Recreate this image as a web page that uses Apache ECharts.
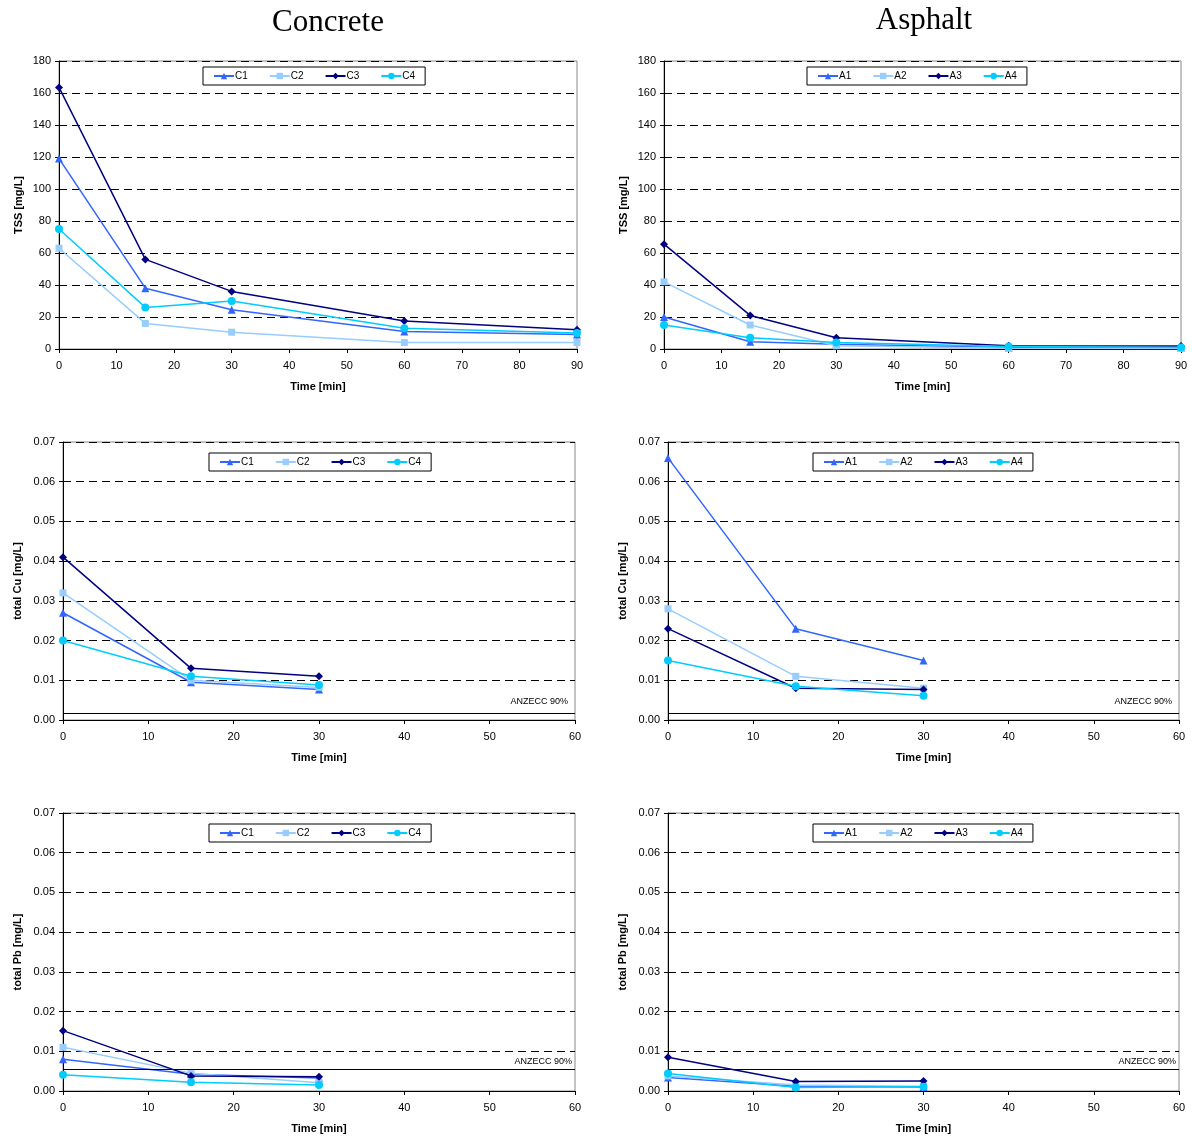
<!DOCTYPE html>
<html><head><meta charset="utf-8">
<script src="https://cdn.jsdelivr.net/npm/echarts@6/dist/echarts.min.js"></script>
<style>html,body{margin:0;padding:0;background:#fff}#c{width:1192px;height:1139px}</style>
</head><body><div id="c"></div>
<script>
// ---- Data ----
const tssTimes = [0, 15, 30, 60, 90];
const metalTimes = [0, 15, 30];
const concreteNames = ['C1', 'C2', 'C3', 'C4'];
const asphaltNames = ['A1', 'A2', 'A3', 'A4'];

const concreteTSS_C1 = [119, 38, 24.5, 11, 9];
const concreteTSS_C2 = [63, 16, 10.5, 4, 4];
const concreteTSS_C3 = [163.5, 56, 36, 17.5, 12];
const concreteTSS_C4 = [75, 26, 30, 13, 10];

const asphaltTSS_A1 = [20, 4.5, 3, 1, 1];
const asphaltTSS_A2 = [42, 15, 2, 0.5, 0.3];
const asphaltTSS_A3 = [65.5, 21, 7, 2, 1.8];
const asphaltTSS_A4 = [15, 7, 4, 1.5, 1];

const concreteCu_C1 = [0.027, 0.0095, 0.0077];
const concreteCu_C2 = [0.032, 0.0100, 0.0082];
const concreteCu_C3 = [0.041, 0.013, 0.011];
const concreteCu_C4 = [0.020, 0.011, 0.0088];

const asphaltCu_A1 = [0.066, 0.023, 0.015];
const asphaltCu_A2 = [0.028, 0.011, 0.008];
const asphaltCu_A3 = [0.023, 0.008, 0.0077];
const asphaltCu_A4 = [0.015, 0.0085, 0.0061];

const concretePb_C1 = [0.008, 0.0042, 0.0033];
const concretePb_C2 = [0.011, 0.0045, 0.0021];
const concretePb_C3 = [0.0152, 0.0038, 0.0036];
const concretePb_C4 = [0.0041, 0.0022, 0.0015];

const asphaltPb_A1 = [0.0034, 0.0012, 0.001];
const asphaltPb_A2 = [0.0038, 0.0015, 0.0012];
const asphaltPb_A3 = [0.0085, 0.0024, 0.0025];
const asphaltPb_A4 = [0.0044, 0.0009, 0.0011];

const anzeccCu = 0.0018;
const anzeccPb = 0.0056;
const anzeccLabel = 'ANZECC 90%';
const panelTitles = ['Concrete', 'Asphalt'];
const yTitles = ['TSS [mg/L]', 'total Cu [mg/L]', 'total Pb [mg/L]'];
const xTitle = 'Time [min]';

// ---- Styles ----
const colors = ['#3366FF', '#99CCFF', '#000080', '#00CCFF'];
const symbols = ['triangle', 'rect', 'diamond', 'circle'];
const symbolSizes = [8, 7, 8, 8];

const panels = [
  {names: concreteNames, times: tssTimes, data: [concreteTSS_C1, concreteTSS_C2, concreteTSS_C3, concreteTSS_C4], xmax: 90, ymax: 180, yint: 20, ytitle: yTitles[0], dec: 0, anz: null, anzDist: 0,
   grid: {left: 59, top: 61, width: 518, height: 288}, legend: {left: 203, top: 67}},
  {names: asphaltNames, times: tssTimes, data: [asphaltTSS_A1, asphaltTSS_A2, asphaltTSS_A3, asphaltTSS_A4], xmax: 90, ymax: 180, yint: 20, ytitle: yTitles[0], dec: 0, anz: null, anzDist: 0,
   grid: {left: 664, top: 61, width: 517, height: 288}, legend: {left: 807, top: 67}},
  {names: concreteNames, times: metalTimes, data: [concreteCu_C1, concreteCu_C2, concreteCu_C3, concreteCu_C4], xmax: 60, ymax: 0.07, yint: 0.01, ytitle: yTitles[1], dec: 2, anz: anzeccCu, anzDist: 7,
   grid: {left: 63, top: 442, width: 512, height: 278}, legend: {left: 209, top: 453}},
  {names: asphaltNames, times: metalTimes, data: [asphaltCu_A1, asphaltCu_A2, asphaltCu_A3, asphaltCu_A4], xmax: 60, ymax: 0.07, yint: 0.01, ytitle: yTitles[1], dec: 2, anz: anzeccCu, anzDist: 7,
   grid: {left: 668, top: 442, width: 511, height: 278}, legend: {left: 813, top: 453}},
  {names: concreteNames, times: metalTimes, data: [concretePb_C1, concretePb_C2, concretePb_C3, concretePb_C4], xmax: 60, ymax: 0.07, yint: 0.01, ytitle: yTitles[2], dec: 2, anz: anzeccPb, anzDist: 3,
   grid: {left: 63, top: 813, width: 512, height: 278}, legend: {left: 209, top: 824}},
  {names: asphaltNames, times: metalTimes, data: [asphaltPb_A1, asphaltPb_A2, asphaltPb_A3, asphaltPb_A4], xmax: 60, ymax: 0.07, yint: 0.01, ytitle: yTitles[2], dec: 2, anz: anzeccPb, anzDist: 3,
   grid: {left: 668, top: 813, width: 511, height: 278}, legend: {left: 813, top: 824}}
];

const font = 'Liberation Sans, Arial, sans-serif';
const grids = [], xAxes = [], yAxes = [], series = [], legends = [];

panels.forEach((p, i) => {
  grids.push(Object.assign({show: true, borderColor: '#888', borderWidth: 1, backgroundColor: '#fff'}, p.grid));
  xAxes.push({
    type: 'value', gridIndex: i, min: 0, max: p.xmax, interval: 10,
    name: xTitle, nameLocation: 'middle', nameGap: 32,
    nameTextStyle: {fontFamily: font, fontSize: 11, fontWeight: 'bold', color: '#000'},
    axisLine: {show: true, onZero: false, lineStyle: {color: '#000', width: 1}},
    axisTick: {show: true, length: 4, lineStyle: {color: '#000'}},
    axisLabel: {fontFamily: font, fontSize: 11, color: '#000', margin: 11},
    splitLine: {show: false}
  });
  yAxes.push({
    type: 'value', gridIndex: i, min: 0, max: p.ymax, interval: p.yint,
    name: p.ytitle, nameLocation: 'middle', nameGap: p.dec ? 40 : 35,
    nameTextStyle: {fontFamily: font, fontSize: 11, fontWeight: 'bold', color: '#000'},
    axisLine: {show: true, lineStyle: {color: '#000', width: 1}},
    axisTick: {show: true, length: 4, lineStyle: {color: '#000'}},
    axisLabel: {fontFamily: font, fontSize: 11, color: '#000', margin: 8,
      formatter: v => v.toFixed(p.dec)},
    splitLine: {show: true, lineStyle: {color: '#000', type: [8, 5], width: 1}}
  });
  p.names.forEach((n, k) => {
    const s = {
      name: n, type: 'line', xAxisIndex: i, yAxisIndex: i,
      data: p.times.map((t, j) => [t, p.data[k][j]]),
      symbol: symbols[k], symbolSize: symbolSizes[k],
      itemStyle: {color: colors[k]},
      lineStyle: {color: colors[k], width: 1.5},
      z: 3 + k, animation: false
    };
    if (k === 0 && p.anz !== null) {
      s.markLine = {
        silent: true, symbol: 'none', animation: false, precision: 6,
        lineStyle: {color: '#000', type: 'solid', width: 1},
        label: {show: true, position: 'insideEndTop', formatter: anzeccLabel, fontFamily: font, fontSize: 9, color: '#000', distance: p.anzDist},
        data: [{yAxis: p.anz}]
      };
    }
    series.push(s);
  });
  legends.push({
    data: p.names.map(n => ({name: n})), left: p.legend.left, top: p.legend.top,
    orient: 'horizontal', borderColor: '#000', borderWidth: 1, padding: [4, 10, 4, 10],
    itemWidth: 20, itemHeight: 8, itemGap: 21,
    textStyle: {fontFamily: font, fontSize: 10, color: '#000', padding: [0, 0, 0, -4]},
    backgroundColor: '#fff', selectedMode: false
  });
});

const serif = '31px "Liberation Serif", "Times New Roman", serif';
const chart = echarts.init(document.getElementById('c'), null, {renderer: 'canvas'});
chart.setOption({
  animation: false,
  backgroundColor: '#fff',
  graphic: [
    {type: 'text', x: 328, y: 7, style: {text: panelTitles[0], textAlign: 'center', font: serif, fill: '#000'}},
    {type: 'text', x: 924, y: 5, style: {text: panelTitles[1], textAlign: 'center', font: serif, fill: '#000'}}
  ],
  grid: grids, xAxis: xAxes, yAxis: yAxes, series: series, legend: legends
});
</script>
</body></html>
